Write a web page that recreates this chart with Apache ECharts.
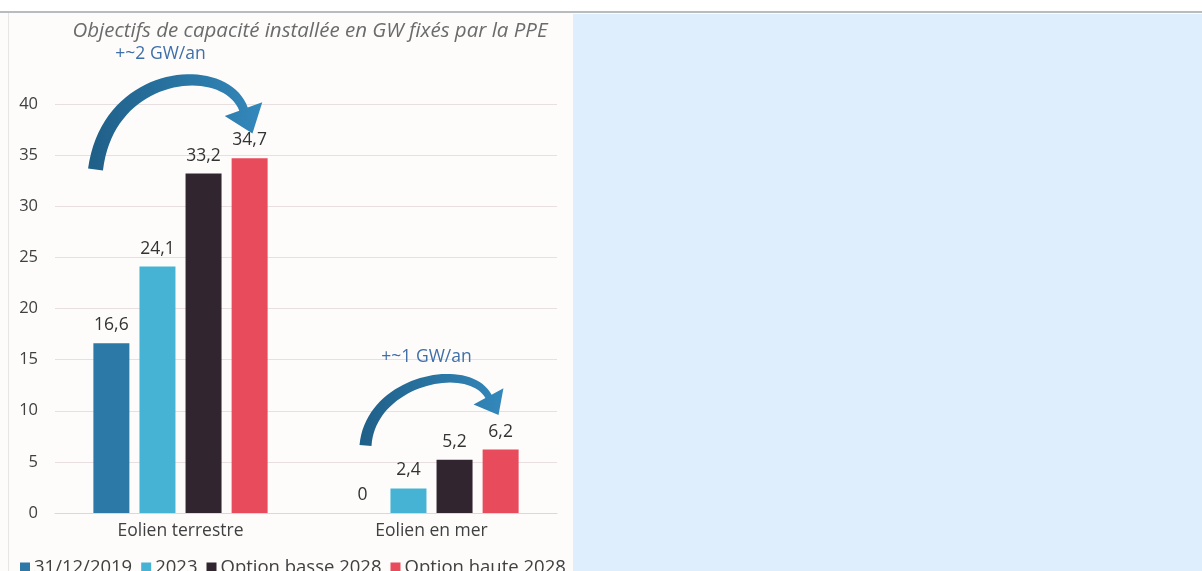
<!DOCTYPE html>
<html>
<head>
<meta charset="utf-8">
<script src="https://cdn.jsdelivr.net/npm/echarts@6/dist/echarts.min.js"></script>
<style>
html,body{margin:0;padding:0;background:#fff;}
#c{width:1202px;height:571px;}
</style>
</head>
<body>
<div id="c"></div>
<script>
const categories = ['Eolien terrestre', 'Eolien en mer'];
const seriesNames = ['31/12/2019', '2023', 'Option basse 2028', 'Option haute 2028'];
const s2019 = [16.6, 0];
const s2023 = [24.1, 2.4];
const sBasse = [33.2, 5.2];
const sHaute = [34.7, 6.2];
const yTicks = [0, 5, 10, 15, 20, 25, 30, 35, 40];
const titleText = 'Objectifs de capacité installée en GW fixés par la PPE';
const note1 = '+~2 GW/an';
const note2 = '+~1 GW/an';

const colors = ['#2c79a7', '#46b3d4', '#31262f', '#e84b5b'];
const FONT = 'Open Sans';
const chart = echarts.init(document.getElementById('c'), null, {renderer: 'canvas'});

const allSeries = [s2019, s2023, sBasse, sHaute];
function fmt(v) { return String(v).replace('.', ','); }

const option = {
  backgroundColor: '#ffffff',
  animation: false,
  title: {
    text: titleText,
    left: 305, top: 16, textAlign: 'center',
    textStyle: {fontFamily: FONT, fontStyle: 'italic', fontWeight: 'normal', fontSize: 20.5, color: '#6b6b6b'}
  },
  legend: {
    left: 15, top: 553,
    icon: 'rect', itemWidth: 10, itemHeight: 10, itemGap: 9,
    textStyle: {fontFamily: FONT, fontSize: 18.5, color: '#404040', padding: [0, 0, 0, -1]},
    data: seriesNames
  },
  grid: {left: 55, right: 645, top: 104, bottom: 58, containLabel: false},
  xAxis: {
    type: 'category', data: categories,
    axisLine: {lineStyle: {color: '#d9d9d9', width: 1}},
    axisTick: {show: false},
    axisLabel: {fontFamily: FONT, fontSize: 17.5, color: '#404040', margin: 9}
  },
  yAxis: {
    type: 'value', min: yTicks[0], max: yTicks[yTicks.length - 1], interval: 5,
    axisLine: {show: false}, axisTick: {show: false},
    axisLabel: {fontFamily: FONT, fontSize: 16.5, color: '#404040', margin: 17},
    splitLine: {lineStyle: {color: '#e8dfe0', width: 1}}
  },
  series: allSeries.map((d, i) => ({
    name: seriesNames[i], type: 'bar', data: d,
    barWidth: 36, barGap: '28%', barCategoryGap: '31%',
    itemStyle: {color: colors[i]},
    label: {show: true, position: 'top', distance: 9, fontFamily: FONT, fontSize: 17.5, color: '#333333',
      formatter: p => fmt(p.value)}
  }))
};
chart.setOption(option);

// decorative background panels and curved arrows
function bez(P, t) {
  const u = 1 - t;
  const a = u*u*u, b = 3*u*u*t, c = 3*u*t*t, d = t*t*t;
  return [a*P[0][0]+b*P[1][0]+c*P[2][0]+d*P[3][0], a*P[0][1]+b*P[1][1]+c*P[2][1]+d*P[3][1]];
}
function bezD(P, t) {
  const u = 1 - t;
  const x = 3*u*u*(P[1][0]-P[0][0]) + 6*u*t*(P[2][0]-P[1][0]) + 3*t*t*(P[3][0]-P[2][0]);
  const y = 3*u*u*(P[1][1]-P[0][1]) + 6*u*t*(P[2][1]-P[1][1]) + 3*t*t*(P[3][1]-P[2][1]);
  const l = Math.hypot(x, y);
  return [x/l, y/l];
}
function arrowPoints(P, w0, w1, headHalf, headLen) {
  const n = 40, left = [], right = [];
  for (let i = 0; i <= n; i++) {
    const t = i / n, p = bez(P, t), d = bezD(P, t);
    const w = (w0 + (w1 - w0) * t) / 2;
    const nx = -d[1], ny = d[0];
    left.push([p[0] + nx*w, p[1] + ny*w]);
    right.push([p[0] - nx*w, p[1] - ny*w]);
  }
  const e = bez(P, 1), d = bezD(P, 1), nx = -d[1], ny = d[0];
  const head = [
    [e[0] + nx*headHalf, e[1] + ny*headHalf],
    [e[0] + d[0]*headLen, e[1] + d[1]*headLen],
    [e[0] - nx*headHalf, e[1] - ny*headHalf]
  ];
  return left.concat([head[0], head[1], head[2]]).concat(right.reverse());
}

function draw() {
  const c0 = chart.convertToPixel({xAxisIndex: 0}, categories[0]);
  const c1 = chart.convertToPixel({xAxisIndex: 0}, categories[1]);
  const y = v => chart.convertToPixel({yAxisIndex: 0}, v);
  const A1 = [[c0 - 85, y(33.6)], [c0 - 72, y(43.5)], [c0 + 45, y(44.3)], [c0 + 63, y(39.5)]];
  const A2 = [[c1 - 66, y(6.6)], [c1 - 61, y(13)], [c1 + 37, y(15)], [c1 + 57, y(11.4)]];
  const grad = new echarts.graphic.LinearGradient(0, 0, 1, 0, [
    {offset: 0, color: '#1f5f88'}, {offset: 1, color: '#3388bb'}]);
  const grad2 = new echarts.graphic.LinearGradient(0, 0, 1, 0, [
    {offset: 0, color: '#1f5f88'}, {offset: 1, color: '#3388bb'}]);
  chart.setOption({
    graphic: [
      {type: 'rect', z: -10, silent: true, shape: {x: 0, y: 12, width: 1202, height: 559}, style: {fill: '#fdfcfb'}},
      {type: 'rect', z: -9, silent: true, shape: {x: 573, y: 14, width: 629, height: 557}, style: {fill: '#dfeefd'}},
      {type: 'rect', z: -8, silent: true, shape: {x: 0, y: 11, width: 1202, height: 2}, style: {fill: '#b9bcbf'}},
      {type: 'rect', z: -8, silent: true, shape: {x: 8, y: 13, width: 1, height: 558}, style: {fill: '#e6e6e6'}},
      {type: 'polygon', z: 10, silent: true, shape: {points: arrowPoints(A1, 15, 9, 20, 26)}, style: {fill: grad}},
      {type: 'polygon', z: 10, silent: true, shape: {points: arrowPoints(A2, 12, 7, 17, 21)}, style: {fill: grad2}},
      {type: 'text', z: 11, silent: true, x: c0 - 20, y: y(44.9), style: {text: note1, fontFamily: FONT, fontSize: 17.5, fill: '#3f6fa8', align: 'center', verticalAlign: 'middle'}},
      {type: 'text', z: 11, silent: true, x: c1 - 5, y: y(15.3), style: {text: note2, fontFamily: FONT, fontSize: 17.5, fill: '#3f6fa8', align: 'center', verticalAlign: 'middle'}}
    ]
  });
}
draw();
</script>
</body>
</html>
